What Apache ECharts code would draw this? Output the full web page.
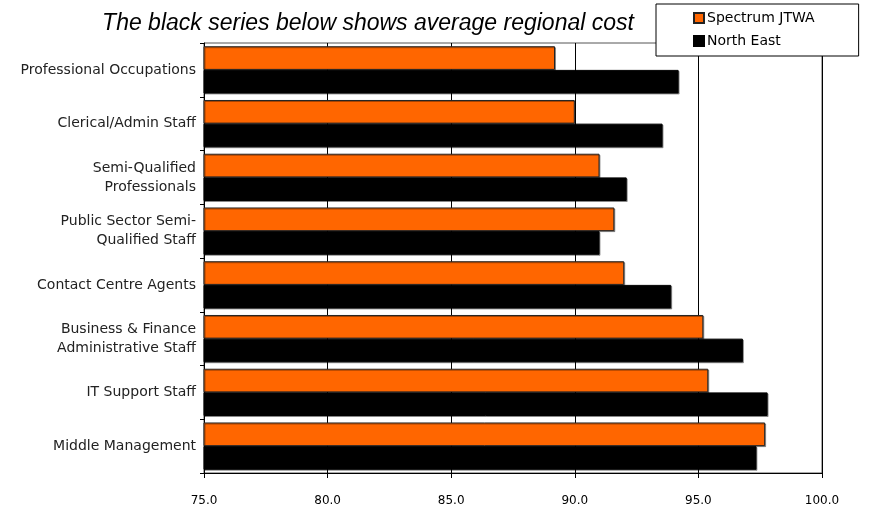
<!DOCTYPE html>
<html>
<head>
<meta charset="utf-8">
<script src="https://cdn.jsdelivr.net/npm/echarts@6/dist/echarts.min.js"></script>
<style>
html,body{margin:0;padding:0;background:#fff;}
#chart{width:874px;height:515px;}
</style>
</head>
<body>
<div id="chart"></div>
<script>
const categories = [
  "Professional Occupations",
  "Clerical/Admin Staff",
  "Semi-Qualified\nProfessionals",
  "Public Sector Semi-\nQualified Staff",
  "Contact Centre Agents",
  "Business & Finance\nAdministrative Staff",
  "IT Support Staff",
  "Middle Management"
];
const spectrumJTWA = [89.2, 90.0, 91.0, 91.6, 92.0, 95.2, 95.4, 97.7];
const northEast = [94.2, 93.55, 92.1, 91.0, 93.9, 96.8, 97.8, 97.35];
const xTicks = [75, 80, 85, 90, 95, 100];

const chart = echarts.init(document.getElementById('chart'), null, {renderer: 'canvas'});
const font = 'DejaVu Sans, Verdana, sans-serif';
chart.setOption({
  backgroundColor: '#ffffff',
  animation: false,
  title: {
    text: 'The black series below shows average regional cost',
    left: 363, top: 7, textAlign: 'center',
    textStyle: {fontFamily: 'Liberation Sans', fontStyle: 'italic', fontWeight: 'normal', fontSize: 23, color: '#000'}
  },
  legend: {
    orient: 'vertical',
    left: 656, top: 4,
    padding: [7, 44, 8, 37],
    itemGap: 9,
    itemWidth: 10, itemHeight: 10,
    borderColor: '#000', borderWidth: 1,
    backgroundColor: '#fff',
    icon: 'rect',
    textStyle: {fontFamily: font, fontSize: 14, color: '#000', padding: [0,0,0,-2]},
    data: ['Spectrum JTWA', 'North East']
  },
  grid: {left: 204, right: 52, top: 43, bottom: 42, containLabel: false,
         show: true, borderColor: '#555', borderWidth: 1, backgroundColor: '#fff'},
  xAxis: {
    type: 'value', min: xTicks[0], max: xTicks[xTicks.length-1], interval: 5,
    axisLine: {show: true, onZero: false, lineStyle: {color: '#000'}},
    axisTick: {show: true, length: 5, lineStyle: {color: '#000'}},
    axisLabel: {fontFamily: font, fontSize: 12, color: '#000', margin: 22,
                formatter: v => v.toFixed(1)},
    splitLine: {show: true, lineStyle: {color: '#000', width: 1}}
  },
  yAxis: {
    type: 'category', data: categories, inverse: true,
    axisLine: {show: true, lineStyle: {color: '#000'}},
    axisTick: {show: true, length: 4, lineStyle: {color: '#000'}},
    axisLabel: {fontFamily: font, fontSize: 14, color: '#222', margin: 8, lineHeight: 19, align: 'right'},
    splitLine: {show: false}
  },
  series: [
    {
      name: 'Spectrum JTWA', type: 'bar', data: spectrumJTWA,
      barGap: '0%', barCategoryGap: '12%',
      itemStyle: {color: '#FF6600', borderColor: '#222', borderWidth: 1,
                  shadowColor: 'rgba(0,0,0,0.35)', shadowOffsetX: 1, shadowOffsetY: 1}
    },
    {
      name: 'North East', type: 'bar', data: northEast,
      barGap: '0%', barCategoryGap: '12%',
      itemStyle: {color: '#000000', borderColor: '#000', borderWidth: 1,
                  shadowColor: 'rgba(0,0,0,0.35)', shadowOffsetX: 1, shadowOffsetY: 1}
    }
  ]
});
</script>
</body>
</html>
